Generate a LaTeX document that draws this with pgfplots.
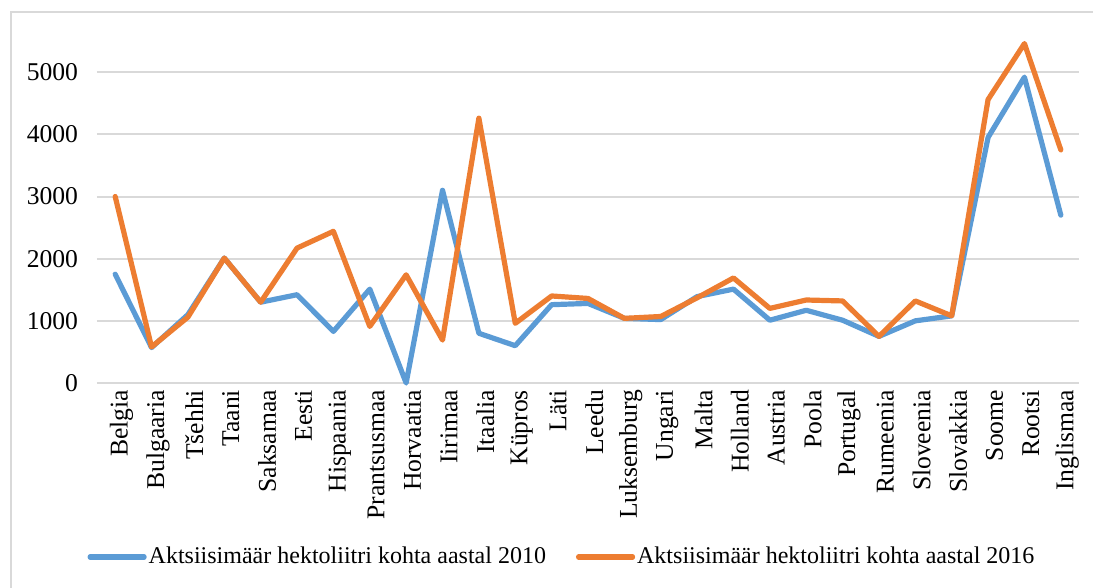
\documentclass[border=0pt]{standalone}
\usepackage{fontspec}
\setmainfont{Liberation Serif}
\usepackage{pgfplots}
\pgfplotsset{compat=1.18}
\definecolor{exblue}{HTML}{5B9BD5}
\definecolor{exorange}{HTML}{ED7D31}
\definecolor{exgrid}{HTML}{D9D9D9}
\newcommand{\chfont}{\fontsize{12.8bp}{15bp}\selectfont}
\newcommand{\lgfont}{\fontsize{12bp}{14bp}\selectfont}
\begin{document}
\begin{tikzpicture}
\useasboundingbox (-48.5bp,-102.5bp) rectangle (498bp,191.5bp);
% chart border (left and top only are visible)
\draw[exgrid, line width=1bp] (-43bp,-102.5bp) -- (-43bp,185.5bp) -- (498bp,185.5bp);
\begin{axis}[
    at={(0,0)}, anchor=south west,
    scale only axis,
    width=491bp, height=186.5bp,
    xmin=-0.5, xmax=26.5,
    ymin=0, ymax=6000,
    ytick={0,1000,...,5000},
    xtick={0,...,26},
    xticklabels={Belgia, Bulgaaria, Tšehhi, Taani, Saksamaa, Eesti, Hispaania, Prantsusmaa, Horvaatia, Iirimaa, Itaalia, Küpros, Läti, Leedu, Luksemburg, Ungari, Malta, Holland, Austria, Poola, Portugal, Rumeenia, Sloveenia, Slovakkia, Soome, Rootsi, Inglismaa},
    xticklabel style={rotate=90, anchor=east, yshift=-3.2bp, font=\chfont},
    yticklabel style={xshift=-6bp, font=\chfont},
    /pgf/number format/assume math mode=true,
    scaled y ticks=false,
    yticklabel={\pgfmathprintnumber[fixed,1000 sep={}]{\tick}},
    ymajorgrids,
    grid style={exgrid, line width=1bp},
    axis line style={draw=none},
    major tick length=0pt,
    clip=false,
    legend columns=2,
    legend style={at={(0.4735,-0.4665)}, anchor=center, draw=none, fill=none, font=\lgfont,
      nodes={inner sep=1bp},
      /tikz/every even column/.append style={column sep=14bp}},
    legend image code/.code={\draw[#1, line width=2.6bp, line cap=round] (0bp,0bp) -- (27bp,0bp);},
    every axis plot/.append style={line width=2.6bp, line join=round, line cap=round, mark=none},
]
\addplot[exblue] coordinates {
(0,1750) (1,570) (2,1100) (3,2010) (4,1300) (5,1420) (6,830) (7,1510) (8,0)
(9,3100) (10,800) (11,600) (12,1260) (13,1280) (14,1040) (15,1020) (16,1390)
(17,1510) (18,1010) (19,1170) (20,1010) (21,750) (22,1000) (23,1080) (24,3950)
(25,4920) (26,2700)};
\addplot[exorange] coordinates {
(0,3000) (1,580) (2,1060) (3,2010) (4,1300) (5,2170) (6,2440) (7,910) (8,1740)
(9,690) (10,4260) (11,960) (12,1400) (13,1360) (14,1040) (15,1070) (16,1370)
(17,1690) (18,1200) (19,1335) (20,1320) (21,750) (22,1320) (23,1080) (24,4560)
(25,5460) (26,3750)};
\legend{Aktsiisimäär hektoliitri kohta aastal 2010, Aktsiisimäär hektoliitri kohta aastal 2016}
\end{axis}
\end{tikzpicture}
\end{document}
